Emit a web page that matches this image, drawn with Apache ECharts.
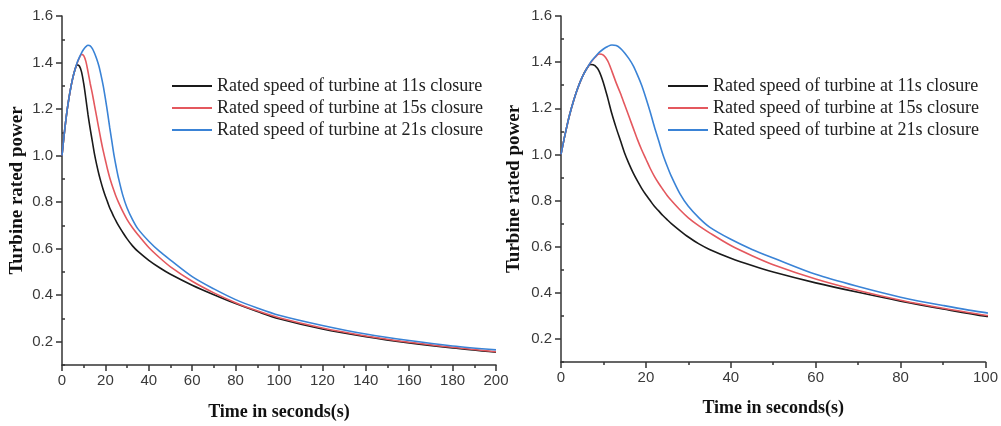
<!DOCTYPE html>
<html><head><meta charset="utf-8">
<script src="https://cdn.jsdelivr.net/npm/echarts@6/dist/echarts.min.js"></script>
<style>html,body{margin:0;padding:0;background:#fff}#c{width:1001px;height:426px}</style>
</head><body><div id="c"></div>
<script>
var time = [0,1,2,3,4,5,6,7,8,9,10,11,12,13,14,15,16,17,18,19,20,21,22,23,24,25,26,28,30,32.5,35,40,45,50,60,70,80,90,100,120,140,160,180,200];
var closure11s = [1.0,1.09,1.17,1.235,1.29,1.335,1.37,1.39,1.385,1.36,1.31,1.245,1.175,1.115,1.06,1.005,0.96,0.92,0.885,0.853,0.825,0.80,0.775,0.755,0.735,0.717,0.70,0.67,0.642,0.612,0.588,0.55,0.518,0.49,0.443,0.402,0.364,0.33,0.299,0.255,0.222,0.195,0.173,0.155];
var closure15s = [1.0,1.09,1.17,1.235,1.29,1.335,1.37,1.398,1.42,1.435,1.43,1.405,1.36,1.31,1.265,1.215,1.165,1.115,1.065,1.02,0.98,0.94,0.905,0.875,0.848,0.822,0.80,0.76,0.725,0.69,0.66,0.605,0.561,0.522,0.46,0.41,0.368,0.333,0.303,0.259,0.225,0.198,0.176,0.157];
var closure21s = [1.0,1.09,1.17,1.235,1.29,1.335,1.37,1.40,1.422,1.442,1.457,1.468,1.474,1.472,1.46,1.44,1.415,1.385,1.345,1.30,1.245,1.185,1.12,1.06,1.00,0.95,0.905,0.83,0.775,0.725,0.685,0.632,0.588,0.551,0.48,0.427,0.381,0.345,0.314,0.27,0.233,0.205,0.182,0.165];
var seriesNames = ['Rated speed of turbine at 11s closure','Rated speed of turbine at 15s closure','Rated speed of turbine at 21s closure'];
var colors = ['#1a1a1a','#e4585e','#3a83d6'];
var yLabelValues = [0.2,0.4,0.6,0.8,1.0,1.2,1.4,1.6];
var yMinorValues = [0.1,0.3,0.5,0.7,0.9,1.1,1.3,1.5];
var xAxisName = 'Time in seconds(s)';
var yAxisName = 'Turbine rated power';

var all = [closure11s, closure15s, closure21s];
function pairs(arr){ return time.map(function(t,i){ return [t, arr[i]]; }); }

var chart = echarts.init(document.getElementById('c'));
var axisCol = '#333';
var tickFont = {fontFamily:'Liberation Sans, Arial, sans-serif', fontSize:15, color:'#3a3a3a'};
var serif = 'Liberation Serif, Times New Roman, serif';

function xAx(grid, max, gap){
  return {type:'value', gridIndex:grid, min:0, max:max, interval:20,
    name:xAxisName, nameLocation:'middle', nameGap:gap,
    nameTextStyle:{fontFamily:serif, fontSize:18, fontWeight:'bold', color:'#111'},
    axisLine:{onZero:false, lineStyle:{color:axisCol, width:1.5}},
    axisTick:{inside:false, length:6, lineStyle:{color:axisCol, width:1.5}},
    minorTick:{show:true, splitNumber:2, length:3, lineStyle:{color:axisCol, width:1.5}},
    axisLabel:Object.assign({margin:8}, tickFont),
    splitLine:{show:false}};
}
function yAx(grid, gap){
  return [{type:'value', gridIndex:grid, min:0.1, max:1.6,
    name:yAxisName, nameLocation:'middle', nameGap:gap,
    nameTextStyle:{fontFamily:serif, fontSize:19, fontWeight:'bold', color:'#111'},
    axisLine:{show:true, onZero:false, lineStyle:{color:axisCol, width:1.5}},
    axisTick:{show:true, length:6, customValues:yLabelValues, lineStyle:{color:axisCol, width:1.5}},
    axisLabel:Object.assign({margin:9, customValues:yLabelValues, formatter:function(v){return v.toFixed(1);}}, tickFont),
    splitLine:{show:false}},
   {type:'value', gridIndex:grid, min:0.1, max:1.6,
    axisLine:{show:false},
    axisTick:{show:true, length:3, customValues:yMinorValues, lineStyle:{color:axisCol, width:1.5}},
    axisLabel:{show:false}, splitLine:{show:false}}];
}

var series = [];
[0,1].forEach(function(g){
  all.forEach(function(arr, k){
    series.push({type:'line', name:seriesNames[k], xAxisIndex:g, yAxisIndex:g*2,
      data:pairs(arr), smooth:0.3, symbol:'none', clip:true,
      lineStyle:{color:colors[k], width:1.6}, itemStyle:{color:colors[k]}});
  });
});

function legend(left){
  return {orient:'vertical', left:left, top:75, padding:0, icon:'rect', itemWidth:40, itemHeight:2, itemGap:0,
    data:seriesNames, textStyle:{fontFamily:serif, fontSize:18, color:'#222', lineHeight:22}};
}

chart.setOption({
  animation:false,
  backgroundColor:'#fff',
  color:colors,
  legend:[legend(172), legend(668)],
  grid:[{left:62, right:505, top:16, bottom:60},{left:561, right:12, top:16, bottom:64}],
  xAxis:[xAx(0,200,38), xAx(1,100,37)],
  yAxis:yAx(0,35).concat(yAx(1,37)),
  series:series
});
</script></body></html>
